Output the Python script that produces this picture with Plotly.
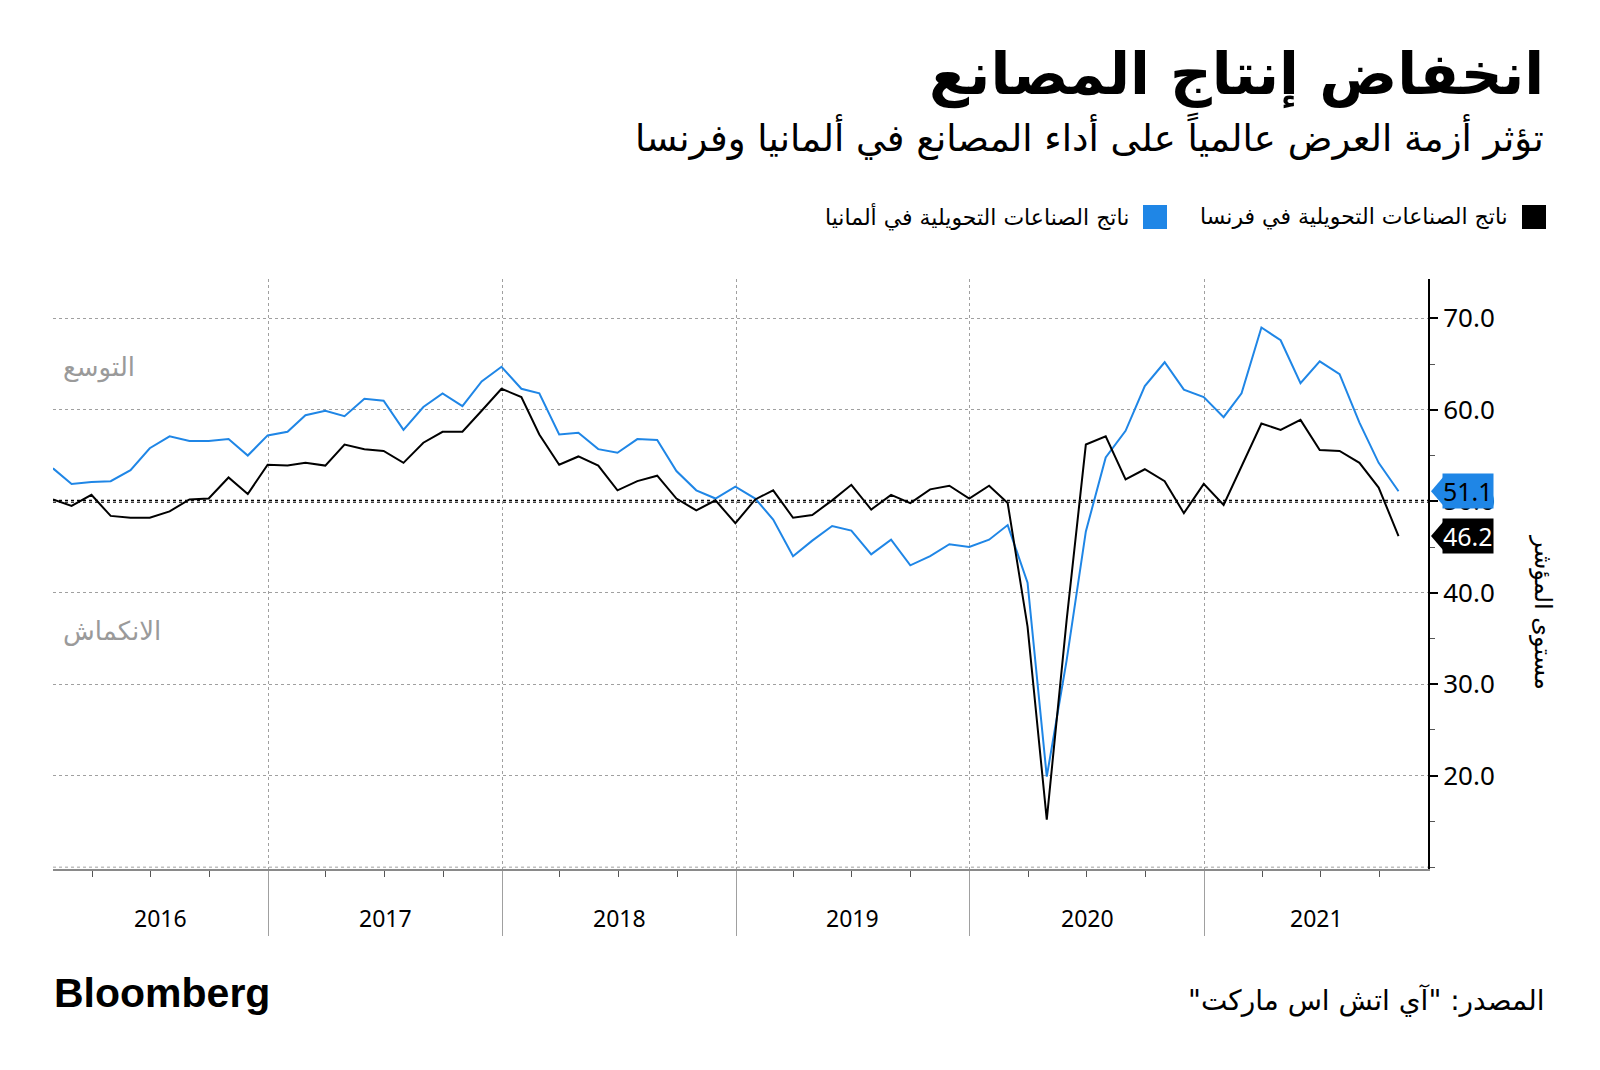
import pandas as pd
import plotly.graph_objects as go

# ---- data (monthly, Jan 2016 - Oct 2021) ----
france = [50.2, 49.5, 50.7, 48.4, 48.2, 48.2, 48.9, 50.2, 50.3, 52.6, 50.8,
          54.0, 53.9, 54.2, 53.9, 56.2, 55.7, 55.5, 54.2, 56.4, 57.6, 57.6, 59.9,
          62.3, 61.4, 57.3, 54.0, 54.9, 53.9, 51.2, 52.2, 52.8, 50.3, 49.0, 50.1,
          47.6, 50.2, 51.2, 48.2, 48.5, 50.1, 51.8, 49.1, 50.7, 49.8, 51.3, 51.7,
          50.3, 51.7, 49.8, 36.3, 15.2, 37.0, 56.2, 57.1, 52.4, 53.5, 52.2, 48.7,
          51.9, 49.6, 53.8, 58.5, 57.8, 58.9, 55.6, 55.5, 54.2, 51.5, 46.2]
germany = [53.6, 51.9, 52.1, 52.2, 53.4, 55.8, 57.1, 56.6, 56.6, 56.8, 55.0,
           57.2, 57.6, 59.4, 59.9, 59.3, 61.2, 61.0, 57.8, 60.3, 61.8, 60.4, 63.1,
           64.7, 62.3, 61.8, 57.3, 57.5, 55.7, 55.3, 56.8, 56.7, 53.3, 51.2, 50.3,
           51.6, 50.3, 48.0, 44.0, 45.7, 47.3, 46.8, 44.2, 45.8, 43.0, 44.0, 45.3,
           45.0, 45.8, 47.4, 41.1, 19.9, 32.6, 46.7, 54.8, 57.7, 62.6, 65.2, 62.2,
           61.4, 59.2, 61.8, 69.0, 67.6, 62.9, 65.3, 63.9, 58.6, 54.2, 51.1]
dates = pd.date_range("2016-02-01", periods=len(france), freq="MS") - pd.Timedelta(days=1)
years = [2016, 2017, 2018, 2019, 2020, 2021]
y_ticks = [20, 30, 40, 50, 60, 70]
x_range = ["2016-01-31", "2021-12-16"]
y_range = [9.8, 74.3]

title = "انخفاض إنتاج المصانع"
subtitle = "تؤثر أزمة العرض عالمياً على أداء المصانع في ألمانيا وفرنسا"
name_fr = "ناتج الصناعات التحويلية في فرنسا"
name_de = "ناتج الصناعات التحويلية في ألمانيا"
label_up = "التوسع"
label_down = "الانكماش"
axis_title = "مستوى المؤشر"
source = "\u200fالمصدر: \"آي اتش اس ماركت\"\u200f"

BLUE = "#1F86E6"
GREY = "#9a9a9a"
AR = "DejaVu Sans"
NUM = "Noto Sans"

# figure is placed with an 8px page margin; coordinates below are page pixels
W, H = 1584, 1054
PLOT_L, PLOT_R, PLOT_T, PLOT_B = 53, 1428, 279, 869
OFF = 8
L, T = PLOT_L - OFF, PLOT_T - OFF
PW, PH = PLOT_R - PLOT_L, PLOT_B - PLOT_T
R, B = W - L - PW, H - T - PH


def px_x(px):
    return (px - PLOT_L) / PW


def px_y(py):
    return (PLOT_B - py) / PH


fig = go.Figure()
fig.add_trace(go.Scatter(x=dates, y=germany, mode="lines", name=name_de,
                         line=dict(color=BLUE, width=2)))
fig.add_trace(go.Scatter(x=dates, y=france, mode="lines", name=name_fr,
                         line=dict(color="black", width=2)))

# 50 reference line and bottom grid line
fig.add_shape(type="line", xref="paper", x0=0, x1=1, yref="y", y0=50, y1=50,
              line=dict(color="black", width=3, dash="dot"), layer="below")
fig.add_shape(type="line", xref="paper", x0=0, x1=1, yref="y", y0=10, y1=10,
              line=dict(color="#a0a0a0", width=1, dash="dot"), layer="below")

ann = []
# title / subtitle
ann.append(dict(text="<b>" + title + "</b>", x=px_x(1546), y=px_y(74), xanchor="right",
                yanchor="middle", font=dict(family=AR, size=58, color="black")))
ann.append(dict(text=subtitle, x=px_x(1546), y=px_y(136), xanchor="right",
                yanchor="middle", font=dict(family=AR, size=37, color="black")))
# legend (RTL)
fig.add_shape(type="rect", xref="paper", yref="paper", x0=px_x(1522), x1=px_x(1546),
              y0=px_y(229), y1=px_y(205), fillcolor="black", line=dict(width=0))
fig.add_shape(type="rect", xref="paper", yref="paper", x0=px_x(1143), x1=px_x(1167),
              y0=px_y(229), y1=px_y(205), fillcolor=BLUE, line=dict(width=0))
ann.append(dict(text=name_fr, x=px_x(1510), y=px_y(217), xanchor="right", yanchor="middle",
                font=dict(family=AR, size=22, color="black")))
ann.append(dict(text=name_de, x=px_x(1131), y=px_y(217), xanchor="right", yanchor="middle",
                font=dict(family=AR, size=22, color="black")))
# zone labels
ann.append(dict(text=label_up, x=px_x(61), y=px_y(367), xanchor="left", yanchor="middle",
                font=dict(family=AR, size=26, color=GREY)))
ann.append(dict(text=label_down, x=px_x(61), y=px_y(631), xanchor="left", yanchor="middle",
                font=dict(family=AR, size=26, color=GREY)))
# right axis title
ann.append(dict(text=axis_title, x=px_x(1543), y=px_y(612), xanchor="center", yanchor="middle",
                textangle=90, font=dict(family=AR, size=24, color="black")))
# year labels centred on visible span
r0, r1 = pd.Timestamp(x_range[0]), pd.Timestamp(x_range[1])
for yr in years:
    a = max(r0, pd.Timestamp(f"{yr}-01-01"))
    b = min(r1, pd.Timestamp(f"{yr + 1}-01-01"))
    mid = a + (b - a) / 2
    ann.append(dict(text=str(yr), x=mid, xref="x", y=px_y(918), yref="paper",
                    xanchor="center", yanchor="middle",
                    font=dict(family=NUM, size=23, color="black")))
# last value labels
for vals, bg, fg in [(germany, BLUE, "black"), (france, "black", "white")]:
    v = vals[-1]
    ann.append(dict(text=f"{v:.1f}", x=px_x(1442), xref="paper", y=v, yref="y",
                    xanchor="left", yanchor="middle", bgcolor=bg, borderpad=0,
                    font=dict(family=NUM, size=25, color=fg)))
    h = 14 / (PH / (y_range[1] - y_range[0]))
    fig.add_shape(type="path", xref="paper", yref="y",
                  path=f"M {px_x(1431)},{v} L {px_x(1443)},{v + h} L {px_x(1443)},{v - h} Z",
                  fillcolor=bg, line=dict(width=0))
# footer
ann.append(dict(text="<b>Bloomberg</b>", x=px_x(52), y=px_y(993), xanchor="left",
                yanchor="middle", font=dict(family="Liberation Sans", size=41, color="black")))
ann.append(dict(text=source, x=px_x(1547), y=px_y(1000), xanchor="right", yanchor="middle",
                font=dict(family=AR, size=28, color="black")))

for a in ann:
    a.setdefault("xref", "paper")
    a.setdefault("yref", "paper")
    a["showarrow"] = False

fig.update_layout(
    width=W, height=H,
    margin=dict(l=L, r=R, t=T, b=B),
    paper_bgcolor="white", plot_bgcolor="white",
    showlegend=False,
    annotations=ann,
    xaxis=dict(type="date", range=x_range, showgrid=True, gridcolor="#a0a0a0",
               griddash="dot", gridwidth=1, tick0="2016-01-01", dtick="M12",
               ticks="outside", ticklen=65, tickcolor="#a0a0a0", tickwidth=1,
               showticklabels=False, showline=True, linecolor="#8a8a8a", linewidth=2,
               zeroline=False,
               minor=dict(dtick="M3", tick0="2016-01-01", ticks="outside", ticklen=6,
                          tickcolor="#555555", tickwidth=1, showgrid=False)),
    yaxis=dict(side="right", range=y_range, tickmode="array", tickvals=y_ticks,
               tickformat=".1f",
               showgrid=True, gridcolor="#a0a0a0", griddash="dot", gridwidth=1,
               ticks="outside", ticklen=8, tickwidth=2, tickcolor="black",
               showline=True, linecolor="black", linewidth=2, zeroline=False,
               tickfont=dict(family=NUM, size=26, color="black"),
               minor=dict(dtick=5, tick0=0, ticks="outside", ticklen=5, tickcolor="#555555",
                          tickwidth=1, showgrid=False)),
)

fig.write_html("out.html")
